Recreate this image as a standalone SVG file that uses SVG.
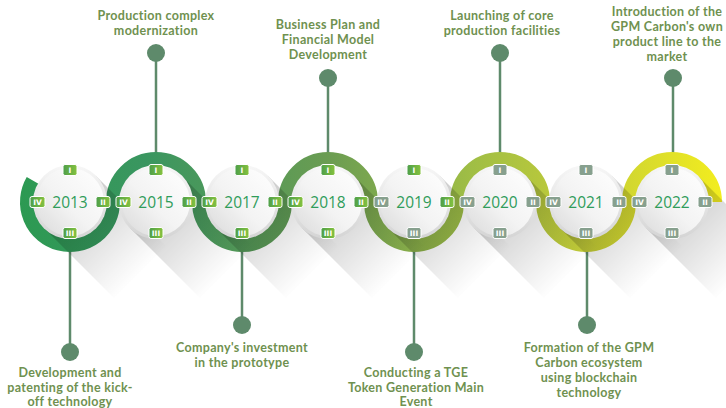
<svg xmlns="http://www.w3.org/2000/svg" width="726" height="408" viewBox="0 0 726 408">
<defs>
<linearGradient id="wave" gradientUnits="userSpaceOnUse" x1="0" y1="0" x2="726" y2="0">
<stop offset="0" stop-color="#2a9a50"/><stop offset="0.2" stop-color="#3a9660"/><stop offset="0.45" stop-color="#6a9c52"/><stop offset="0.65" stop-color="#a0be45"/><stop offset="0.8" stop-color="#c2cc38"/><stop offset="1" stop-color="#f4ee1e"/>
</linearGradient>
<linearGradient id="shadow" x1="0" y1="0" x2="1" y2="1">
<stop offset="0" stop-color="#000" stop-opacity="0.3"/><stop offset="0.35" stop-color="#000" stop-opacity="0.16"/><stop offset="0.8" stop-color="#000" stop-opacity="0"/>
</linearGradient>
<linearGradient id="rim" x1="0" y1="0" x2="0" y2="1">
<stop offset="0" stop-color="#f7f7f7"/><stop offset="1" stop-color="#d4d4d4"/>
</linearGradient>
<linearGradient id="face" x1="1" y1="0" x2="0" y2="1">
<stop offset="0" stop-color="#ffffff"/><stop offset="0.55" stop-color="#f3f3f3"/><stop offset="1" stop-color="#d9d9d9"/>
</linearGradient>
<linearGradient id="bgreen" x1="0" y1="0" x2="1" y2="0">
<stop offset="0" stop-color="#4c9e4a"/><stop offset="1" stop-color="#86c23e"/>
</linearGradient>
<style>
.rim{fill:url(#rim)}
.face{fill:url(#face)}
.shd{fill:url(#shadow)}
.wv{fill:none;stroke:url(#wave);stroke-width:14}
.bg{fill:url(#bgreen);stroke:#fff;stroke-width:1}
.bx{fill:#87a08e;stroke:#fff;stroke-width:1}
.bt{font-family:"DejaVu Sans",sans-serif;font-weight:bold;font-size:7.5px;fill:#fff;text-anchor:middle}
.yr{font-family:"Open Sans",sans-serif;font-weight:500;font-size:15.5px;fill:#2f9c5a;text-anchor:middle}
.lb{font-family:Lato,"Open Sans",sans-serif;font-weight:700;font-size:12.5px;letter-spacing:0.3px;fill:#6f9150;text-anchor:middle}
.ln{stroke:#5e8a6b;stroke-width:2.5;fill:none}
.dot{fill:#5e8a6b}
</style>
</defs>
<rect width="726" height="408" fill="#ffffff"/>

<g id="connectors">
<line class="ln" x1="70" y1="210" x2="70" y2="352"/><circle class="dot" cx="70" cy="352" r="9"/>
<line class="ln" x1="156" y1="53" x2="156" y2="200"/><circle class="dot" cx="156" cy="53" r="9"/>
<line class="ln" x1="242" y1="210" x2="242" y2="325"/><circle class="dot" cx="242" cy="325" r="9"/>
<line class="ln" x1="328" y1="78" x2="328" y2="200"/><circle class="dot" cx="328" cy="78" r="9"/>
<line class="ln" x1="414" y1="210" x2="414" y2="352"/><circle class="dot" cx="414" cy="352" r="9"/>
<line class="ln" x1="500" y1="53" x2="500" y2="200"/><circle class="dot" cx="500" cy="53" r="9"/>
<line class="ln" x1="587" y1="210" x2="587" y2="325"/><circle class="dot" cx="587" cy="325" r="9"/>
<line class="ln" x1="673" y1="78" x2="673" y2="200"/><circle class="dot" cx="673" cy="78" r="9"/>
</g>

<g id="wave-band">
<path class="wv" d="M32.8,180.5 A43 43 0 1 0 113,202"/>
<path class="wv" d="M113,202 A43 43 0 0 1 199,202"/>
<path class="wv" d="M199,202 A43 43 0 0 0 285,202"/>
<path class="wv" d="M285,202 A43 43 0 0 1 371,202"/>
<path class="wv" d="M371,202 A43 43 0 0 0 457,202"/>
<path class="wv" d="M457,202 A43 43 0 0 1 543,202"/>
<path class="wv" d="M543,202 A43 43 0 0 0 629,202"/>
<path class="wv" d="M629,202 A43 43 0 0 1 715,202"/>
</g>

<g id="shadows">
<path class="shd" d="M96,176 L166,246 L114,298 L44,228 Z"/>
<path class="shd" d="M182,176 L252,246 L200,298 L130,228 Z"/>
<path class="shd" d="M268,176 L338,246 L286,298 L216,228 Z"/>
<path class="shd" d="M354,176 L424,246 L372,298 L302,228 Z"/>
<path class="shd" d="M440,176 L510,246 L458,298 L388,228 Z"/>
<path class="shd" d="M526,176 L596,246 L544,298 L474,228 Z"/>
<path class="shd" d="M612,176 L682,246 L630,298 L560,228 Z"/>
<path class="shd" d="M698,176 L768,246 L716,298 L646,228 Z"/>
</g>

<g id="node-2013">
<circle class="rim" cx="70" cy="202" r="37"/><circle class="face" cx="70" cy="202" r="34"/>
<text class="yr" x="70" y="207.5">2013</text>
<rect class="bg" x="63" y="164.5" width="14" height="11" rx="2"/><text class="bt" x="70" y="172.8">I</text>
<rect class="bg" x="96" y="196.5" width="14" height="11" rx="2"/><text class="bt" x="103" y="204.8">II</text>
<rect class="bg" x="63" y="227.5" width="14" height="11" rx="2"/><text class="bt" x="70" y="235.8">III</text>
<rect class="bg" x="30" y="196.5" width="15" height="11" rx="2"/><text class="bt" x="37.5" y="204.8">IV</text>
<text class="lb" x="70" y="377">Development and</text>
<text class="lb" x="70" y="391.5">patenting of the kick-</text>
<text class="lb" x="70" y="406">off technology</text>
</g>

<g id="node-2015">
<circle class="rim" cx="156" cy="202" r="37"/><circle class="face" cx="156" cy="202" r="34"/>
<text class="yr" x="156" y="207.5">2015</text>
<rect class="bg" x="149" y="164.5" width="14" height="11" rx="2"/><text class="bt" x="156" y="172.8">I</text>
<rect class="bg" x="182" y="196.5" width="14" height="11" rx="2"/><text class="bt" x="189" y="204.8">II</text>
<rect class="bg" x="149" y="227.5" width="14" height="11" rx="2"/><text class="bt" x="156" y="235.8">III</text>
<rect class="bg" x="116" y="196.5" width="15" height="11" rx="2"/><text class="bt" x="123.5" y="204.8">IV</text>
<text class="lb" x="156" y="20">Production complex</text>
<text class="lb" x="156" y="34.5">modernization</text>
</g>

<g id="node-2017">
<circle class="rim" cx="242" cy="202" r="37"/><circle class="face" cx="242" cy="202" r="34"/>
<text class="yr" x="242" y="207.5">2017</text>
<rect class="bg" x="235" y="164.5" width="14" height="11" rx="2"/><text class="bt" x="242" y="172.8">I</text>
<rect class="bg" x="268" y="196.5" width="14" height="11" rx="2"/><text class="bt" x="275" y="204.8">II</text>
<rect class="bg" x="235" y="227.5" width="14" height="11" rx="2"/><text class="bt" x="242" y="235.8">III</text>
<rect class="bg" x="202" y="196.5" width="15" height="11" rx="2"/><text class="bt" x="209.5" y="204.8">IV</text>
<text class="lb" x="242" y="352">Company's investment</text>
<text class="lb" x="242" y="366.5">in the prototype</text>
</g>

<g id="node-2018">
<circle class="rim" cx="328" cy="202" r="37"/><circle class="face" cx="328" cy="202" r="34"/>
<text class="yr" x="328" y="207.5">2018</text>
<rect class="bg" x="321" y="164.5" width="14" height="11" rx="2"/><text class="bt" x="328" y="172.8">I</text>
<rect class="bg" x="354" y="196.5" width="14" height="11" rx="2"/><text class="bt" x="361" y="204.8">II</text>
<rect class="bg" x="321" y="227.5" width="14" height="11" rx="2"/><text class="bt" x="328" y="235.8">III</text>
<rect class="bg" x="288" y="196.5" width="15" height="11" rx="2"/><text class="bt" x="295.5" y="204.8">IV</text>
<text class="lb" x="328" y="29">Business Plan and</text>
<text class="lb" x="328" y="44">Financial Model</text>
<text class="lb" x="328" y="59">Development</text>
</g>

<g id="node-2019">
<circle class="rim" cx="414" cy="202" r="37"/><circle class="face" cx="414" cy="202" r="34"/>
<text class="yr" x="414" y="207.5">2019</text>
<rect class="bg" x="407" y="164.5" width="14" height="11" rx="2"/><text class="bt" x="414" y="172.8">I</text>
<rect class="bg" x="440" y="196.5" width="14" height="11" rx="2"/><text class="bt" x="447" y="204.8">II</text>
<rect class="bx" x="407" y="227.5" width="14" height="11" rx="2"/><text class="bt" x="414" y="235.8">III</text>
<rect class="bx" x="374" y="196.5" width="15" height="11" rx="2"/><text class="bt" x="381.5" y="204.8">IV</text>
<text class="lb" x="416" y="377">Conducting a TGE</text>
<text class="lb" x="416" y="391.5">Token Generation Main</text>
<text class="lb" x="416" y="406">Event</text>
</g>

<g id="node-2020">
<circle class="rim" cx="500" cy="202" r="37"/><circle class="face" cx="500" cy="202" r="34"/>
<text class="yr" x="500" y="207.5">2020</text>
<rect class="bx" x="493" y="164.5" width="14" height="11" rx="2"/><text class="bt" x="500" y="172.8">I</text>
<rect class="bx" x="526" y="196.5" width="14" height="11" rx="2"/><text class="bt" x="533" y="204.8">II</text>
<rect class="bx" x="493" y="227.5" width="14" height="11" rx="2"/><text class="bt" x="500" y="235.8">III</text>
<rect class="bx" x="460" y="196.5" width="15" height="11" rx="2"/><text class="bt" x="467.5" y="204.8">IV</text>
<text class="lb" x="502" y="20">Launching of core</text>
<text class="lb" x="502" y="34.5">production facilities</text>
</g>

<g id="node-2021">
<circle class="rim" cx="586" cy="202" r="37"/><circle class="face" cx="586" cy="202" r="34"/>
<text class="yr" x="586" y="207.5">2021</text>
<rect class="bx" x="579" y="164.5" width="14" height="11" rx="2"/><text class="bt" x="586" y="172.8">I</text>
<rect class="bx" x="612" y="196.5" width="14" height="11" rx="2"/><text class="bt" x="619" y="204.8">II</text>
<rect class="bx" x="579" y="227.5" width="14" height="11" rx="2"/><text class="bt" x="586" y="235.8">III</text>
<rect class="bx" x="546" y="196.5" width="15" height="11" rx="2"/><text class="bt" x="553.5" y="204.8">IV</text>
<text class="lb" x="589" y="352">Formation of the GPM</text>
<text class="lb" x="589" y="367">Carbon ecosystem</text>
<text class="lb" x="589" y="382">using blockchain</text>
<text class="lb" x="589" y="397">technology</text>
</g>

<g id="node-2022">
<circle class="rim" cx="672" cy="202" r="37"/><circle class="face" cx="672" cy="202" r="34"/>
<text class="yr" x="672" y="207.5">2022</text>
<rect class="bx" x="665" y="164.5" width="14" height="11" rx="2"/><text class="bt" x="672" y="172.8">I</text>
<rect class="bx" x="698" y="196.5" width="14" height="11" rx="2"/><text class="bt" x="705" y="204.8">II</text>
<rect class="bx" x="665" y="227.5" width="14" height="11" rx="2"/><text class="bt" x="672" y="235.8">III</text>
<rect class="bx" x="632" y="196.5" width="15" height="11" rx="2"/><text class="bt" x="639.5" y="204.8">IV</text>
<text class="lb" x="667" y="16">Introduction of the</text>
<text class="lb" x="667" y="31">GPM Carbon's own</text>
<text class="lb" x="667" y="46">product line to the</text>
<text class="lb" x="667" y="61">market</text>
</g>
</svg>
